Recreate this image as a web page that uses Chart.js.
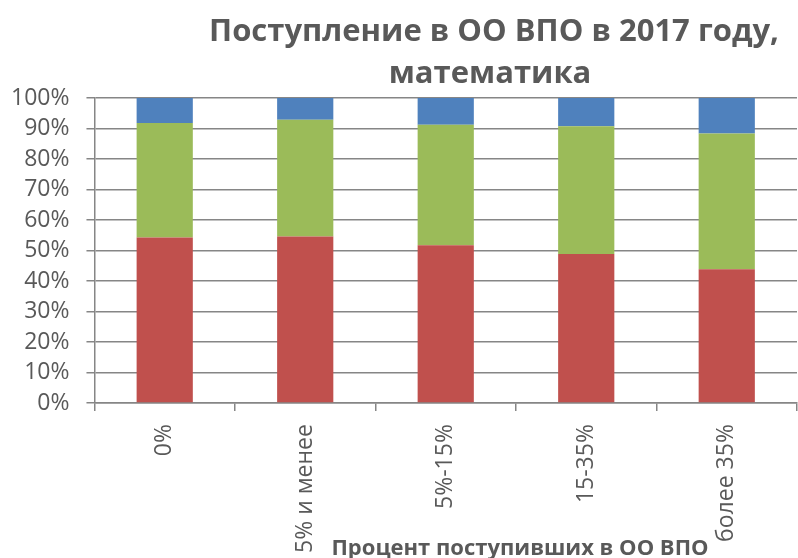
<!DOCTYPE html>
<html>
<head>
<meta charset="utf-8">
<script src="https://cdn.jsdelivr.net/npm/chart.js@4"></script>
<style>
    html, body { margin: 0; padding: 0; background: #ffffff; }
    #wrap { width: 798px; height: 558px; }
</style>
</head>
<body>
<div id="wrap"><canvas id="barChart" width="798" height="558"></canvas></div>
<script>
    // Chart data
    const categories = ['0%', '5% и менее', '5%-15%', '15-35%', 'более 35%'];
    const seriesNames = ['Ряд1', 'Ряд2', 'Ряд3'];
    const redValues = [54.3, 54.6, 51.7, 48.9, 43.9];
    const greenValues = [37.5, 38.3, 39.5, 41.8, 44.5];
    const blueValues = [8.2, 7.1, 8.8, 9.3, 11.6];
    const yTicks = [0, 10, 20, 30, 40, 50, 60, 70, 80, 90, 100];

    const titleLines = ['Поступление в ОО ВПО в 2017 году,', 'математика'];
    const xTitle = 'Процент поступивших в ОО ВПО';

    const textColor = '#595959';
    const gridColor = '#868686';
    const fontFamily = "'Open Sans', sans-serif";

    // Titles drawn as text on the canvas (chart title + x axis title)
    const titlesPlugin = {
        id: 'titles',
        afterDraw: function (chart) {
            const ctx = chart.ctx;
            ctx.save();
            ctx.fillStyle = textColor;
            ctx.textAlign = 'center';
            ctx.textBaseline = 'alphabetic';
            ctx.font = 'bold 31px ' + fontFamily;
            ctx.fillText(titleLines[0], 494, 41);
            ctx.fillText(titleLines[1], 490, 83);
            ctx.font = 'bold 22px ' + fontFamily;
            ctx.fillText(xTitle, 520, 555);
            ctx.restore();
        }
    };

    const barData = {
        labels: categories,
        datasets: [
            { label: seriesNames[0], data: redValues, backgroundColor: '#C0504D' },
            { label: seriesNames[1], data: greenValues, backgroundColor: '#9BBB59' },
            { label: seriesNames[2], data: blueValues, backgroundColor: '#4F81BD' }
        ]
    };

    const barOptions = {
        responsive: false,
        animation: false,
        layout: {
            padding: { top: 98, right: 1, bottom: -8, left: -6 }
        },
        datasets: {
            bar: { categoryPercentage: 1.0, barPercentage: 0.4 }
        },
        plugins: {
            legend: { display: false },
            title: { display: false },
            tooltip: { enabled: false }
        },
        scales: {
            x: {
                stacked: true,
                grid: {
                    offset: true,
                    drawOnChartArea: false,
                    drawTicks: true,
                    tickLength: 8,
                    color: gridColor,
                    lineWidth: 1.5
                },
                border: { color: gridColor, width: 1.5 },
                ticks: {
                    color: textColor,
                    font: { family: fontFamily, size: 23 },
                    minRotation: 90,
                    maxRotation: 90,
                    padding: 13,
                    autoSkip: false
                }
            },
            y: {
                stacked: true,
                min: 0,
                max: 100,
                afterBuildTicks: function (scale) {
                    scale.ticks = yTicks.map(function (v) { return { value: v }; });
                },
                grid: {
                    color: gridColor,
                    lineWidth: 1.5,
                    drawTicks: true,
                    tickLength: 8
                },
                border: { color: gridColor, width: 1.5 },
                ticks: {
                    color: textColor,
                    font: { family: fontFamily, size: 23 },
                    padding: 17,
                    autoSkip: false,
                    callback: function (v) { return v + '%'; }
                }
            }
        }
    };

    // Initialize Bar Chart
    const barCtx = document.getElementById('barChart').getContext('2d');
    const barChart = new Chart(barCtx, {
        type: 'bar',
        data: barData,
        options: barOptions,
        plugins: [titlesPlugin]
    });
</script>
</body>
</html>
